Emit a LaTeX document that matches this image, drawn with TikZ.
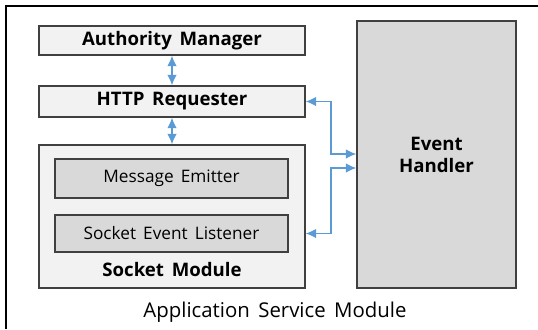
\documentclass[tikz,border=0pt]{standalone}
\usepackage{fontspec}
\setmainfont{Open Sans}[WordSpace=1.6]
\usetikzlibrary{arrows.meta}
\definecolor{boxline}{HTML}{404040}
\definecolor{lightbox}{HTML}{F2F2F2}
\definecolor{darkbox}{HTML}{D9D9D9}
\definecolor{linkblue}{HTML}{5B9BD5}
\begin{document}
\begin{tikzpicture}[
    x=0.02cm, y=-0.02cm,
    module/.style={fill=lightbox, draw=boxline, line width=0.8pt, inner sep=0pt, font=\fontsize{10.6}{12.5}\selectfont\bfseries},
    part/.style={fill=darkbox, draw=boxline, line width=0.8pt, inner sep=0pt, font=\fontsize{9.8}{11.5}\selectfont},
    link/.style={linkblue, line width=0.8pt, {Latex[length=6pt,width=5.5pt]}-{Latex[length=6pt,width=5.5pt]}},
]
\useasboundingbox (0,0) rectangle (538,329);

% Outer frame (cut off at right and bottom)
\draw[line width=1.1pt] (6,329) -- (6,6) -- (538,6);

% --- left column ---
\node[module, minimum width=5.32cm, minimum height=0.58cm] (auth) at (172,40.5) {Authority Manager};
\node[module, minimum width=5.32cm, minimum height=0.62cm] (http) at (172,101.5) {HTTP Requester};
\node[module, minimum width=5.32cm, minimum height=2.86cm] (socket) at (172,216.5) {};
\node[part, minimum width=4.66cm, minimum height=0.78cm] (emitter) at (171.5,178.5) {Message Emitter};
\node[part, minimum width=4.66cm, minimum height=0.74cm] (listener) at (171.5,233.5) {Socket Event Listener};
\node[font=\fontsize{10.6}{12.5}\selectfont\bfseries] (sockettitle) at (172,270) {Socket Module};

% --- right column ---
\node[part, minimum width=3.18cm, minimum height=5.34cm, align=center,
      font=\fontsize{10.6}{12.5}\selectfont\bfseries] (handler) at (436.5,154.5) {Event\\Handler};

% Title
\node[font=\fontsize{11.6}{13.5}\selectfont] (title) at (275,312) {Application Service Module};

% Links
\draw[link] (auth) -- (http);
\draw[link] (http) -- (socket);
\coordinate (upper) at (331,154);
\coordinate (lower) at (331,168);
\draw[link] (http.east) -| (upper) -- (upper -| handler.west);
\draw[link] (socket.east |- listener) -| (lower) -- (lower -| handler.west);

\end{tikzpicture}
\end{document}
